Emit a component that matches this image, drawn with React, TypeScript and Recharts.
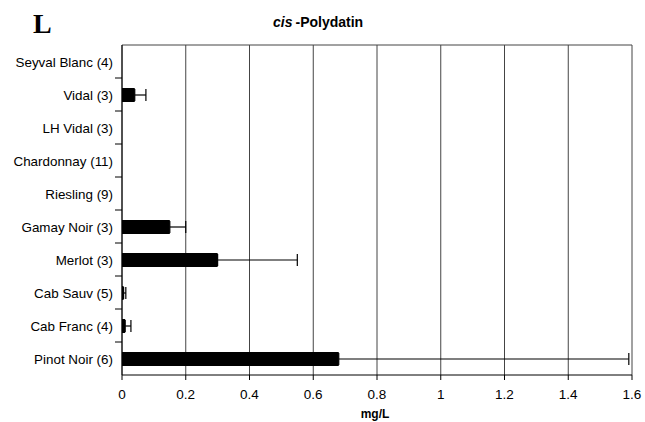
import {
  BarChart,
  Bar,
  XAxis,
  YAxis,
  CartesianGrid,
  ErrorBar,
} from "recharts";

const varieties = [
  "Seyval Blanc (4)",
  "Vidal (3)",
  "LH Vidal (3)",
  "Chardonnay (11)",
  "Riesling (9)",
  "Gamay Noir (3)",
  "Merlot (3)",
  "Cab Sauv (5)",
  "Cab Franc (4)",
  "Pinot Noir (6)",
];
const means = [0, 0.04, 0, 0, 0, 0.15, 0.3, 0.005, 0.01, 0.68];
const sds = [0, 0.035, 0, 0, 0, 0.05, 0.25, 0.007, 0.018, 0.91];
const xTicks = [0, 0.2, 0.4, 0.6, 0.8, 1, 1.2, 1.4, 1.6];

const data = varieties.map((name, i) => ({
  name,
  mean: means[i],
  err: [0, sds[i]],
}));

const font = "Arial, 'Liberation Sans', sans-serif";

const YTick = (props: any) => {
  const { x, y, payload, index } = props;
  return (
    <g>
      <text
        x={x - 1}
        y={y}
        dy={5}
        textAnchor="end"
        fontSize={13.4}
        fontFamily={font}
        fill="#000"
      >
        {payload.value}
      </text>
      {index < varieties.length - 1 && (
        <line x1={x + 1} x2={x + 8} y1={y + 16.5} y2={y + 16.5} stroke="#000" />
      )}
    </g>
  );
};

export default function App() {
  return (
    <div style={{ position: "absolute", left: 0, top: 0, width: 645, height: 422, background: "#fff" }}>
      <div style={{ position: "absolute", left: 0, top: 0 }}>
        <BarChart
          width={645}
          height={422}
          data={data}
          layout="vertical"
          margin={{ top: 45, right: 13, bottom: 17, left: 0 }}
          barCategoryGap={0}
        >
          <CartesianGrid
            vertical
            horizontal
            horizontalPoints={[45]}
            stroke="#444"
            strokeWidth={1}
          />
          <XAxis
            type="number"
            domain={[0, 1.6]}
            ticks={xTicks}
            allowDataOverflow
            height={30}
            stroke="#000"
            tickSize={5}
            tick={{ fontSize: 13.5, fontFamily: font, fill: "#000", dy: 7 }}
          />
          <YAxis
            type="category"
            dataKey="name"
            width={122}
            stroke="#000"
            tickLine={false}
            tick={<YTick />}
            interval={0}
          />
          <Bar dataKey="mean" fill="#000" barSize={14} isAnimationActive={false}>
            <ErrorBar dataKey="err" direction="x" width={6} stroke="#000" strokeWidth={1.2} />
          </Bar>
        </BarChart>
      </div>
      <svg width={645} height={422} style={{ position: "absolute", left: 0, top: 0, pointerEvents: "none" }}>
        <text x={33} y={33} fontFamily="'Liberation Serif', 'Times New Roman', serif" fontWeight="bold" fontSize={28}>
          L
        </text>
        <text x={273} y={27} fontFamily={font} fontWeight="bold" fontSize={14}>
          <tspan fontStyle="italic">cis</tspan>
          <tspan dx={3}>-Polydatin</tspan>
        </text>
        <text x={375} y={418} textAnchor="middle" fontFamily={font} fontWeight="bold" fontSize={12}>
          mg/L
        </text>
      </svg>
    </div>
  );
}
